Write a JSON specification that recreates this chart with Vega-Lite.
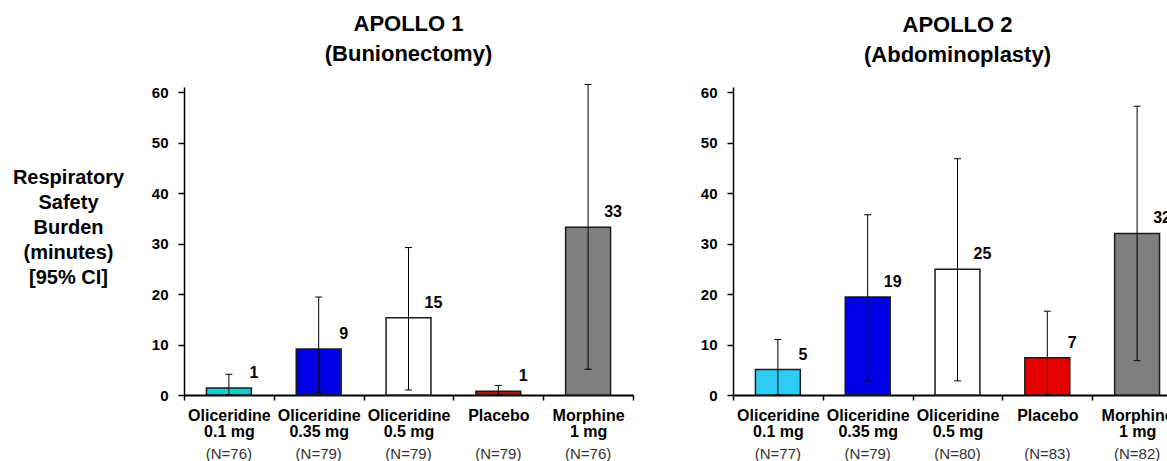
{
  "$schema": "https://vega.github.io/schema/vega-lite/v6.json",
  "padding": {"left": 12, "top": 12, "right": 0, "bottom": 0},
  "background": "white",
  "config": {
    "font": "Liberation Sans",
    "view": {"stroke": null},
    "axis": {"grid": false, "domainColor": "black", "tickColor": "black", "labelColor": "black", "labelFont": "Liberation Sans", "titleFont": "Liberation Sans"},
    "title": {"font": "Liberation Sans", "fontSize": 22, "fontWeight": "bold", "color": "black", "lineHeight": 30, "anchor": "middle", "offset": 18}
  },
  "datasets": {
    "apollo1": [
      {"treatment": "Oliceridine 0.1 mg", "mean": 1.4, "lo": 0, "hi": 4.1, "txt": "1", "n": "(N=76)"},
      {"treatment": "Oliceridine 0.35 mg", "mean": 9.1, "lo": 0.5, "hi": 19.4, "txt": "9", "n": "(N=79)"},
      {"treatment": "Oliceridine 0.5 mg", "mean": 15.3, "lo": 1.0, "hi": 29.2, "txt": "15", "n": "(N=79)"},
      {"treatment": "Placebo", "mean": 0.75, "lo": 0, "hi": 1.9, "txt": "1", "n": "(N=79)"},
      {"treatment": "Morphine 1 mg", "mean": 33.2, "lo": 5.1, "hi": 61.5, "txt": "33", "n": "(N=76)"}
    ],
    "apollo2": [
      {"treatment": "Oliceridine 0.1 mg", "mean": 5.05, "lo": 0, "hi": 11.0, "txt": "5", "n": "(N=77)"},
      {"treatment": "Oliceridine 0.35 mg", "mean": 19.4, "lo": 2.8, "hi": 35.7, "txt": "19", "n": "(N=79)"},
      {"treatment": "Oliceridine 0.5 mg", "mean": 24.9, "lo": 2.8, "hi": 46.8, "txt": "25", "n": "(N=80)"},
      {"treatment": "Placebo", "mean": 7.4, "lo": 0, "hi": 16.6, "txt": "7", "n": "(N=83)"},
      {"treatment": "Morphine 1 mg", "mean": 32.0, "lo": 6.8, "hi": 57.2, "txt": "32", "n": "(N=82)"}
    ]
  },
  "resolve": {"scale": {"color": "independent", "x": "independent", "y": "independent"}},
  "spacing": 66,
  "hconcat": [
    {
      "title": {"text": ["APOLLO 1", "(Bunionectomy)"]},
      "width": 449,
      "height": 308,
      "data": {"name": "apollo1"},
      "encoding": {
        "x": {"field": "treatment", "type": "nominal", "sort": null,
          "scale": {"paddingInner": 0, "paddingOuter": 0},
          "axis": {"title": null, "labelAngle": 0, "labelExpr": "indexof(datum.label, ' ') > 0 ? [substring(datum.label, 0, indexof(datum.label, ' ')), substring(datum.label, indexof(datum.label, ' ') + 1)] : datum.label", "labelFontSize": 16, "labelFontWeight": "bold", "labelLineHeight": 16, "labelPadding": 7, "tickSize": 5, "tickWidth": 1.5, "tickBand": "extent", "domainWidth": 2}}
      },
      "layer": [
        {
          "mark": {"type": "bar", "width": {"band": 0.5}, "stroke": "#1a1a1a", "strokeWidth": 1.5},
          "encoding": {
            "y": {"field": "mean", "type": "quantitative", "scale": {"domain": [0, 61], "nice": false},
              "axis": {"values": [0, 10, 20, 30, 40, 50, 60], "labelFontSize": 15, "labelFontWeight": "bold", "labelPadding": 10, "tickSize": 6, "tickWidth": 1.5, "domainWidth": 1.5,
                "title": ["Respiratory", "Safety", "Burden", "(minutes)", "[95% CI]"], "titleAngle": 0, "titleAlign": "center", "titleBaseline": "middle", "titleX": -116, "titleY": 90, "titleFontSize": 20, "titleFontWeight": "bold", "titleLineHeight": 25, "titleColor": "black"}},
            "color": {"field": "treatment", "type": "nominal", "legend": null,
              "scale": {"domain": ["Oliceridine 0.1 mg", "Oliceridine 0.35 mg", "Oliceridine 0.5 mg", "Placebo", "Morphine 1 mg"], "range": ["#1ec8cc", "#0000e6", "#ffffff", "#a01818", "#808080"]}}
          }
        },
        {
          "mark": {"type": "rule", "color": "black", "strokeWidth": 1},
          "encoding": {"y": {"field": "lo", "type": "quantitative"}, "y2": {"field": "hi"}}
        },
        {
          "mark": {"type": "tick", "orient": "horizontal", "size": 7, "thickness": 1, "color": "black", "opacity": 1},
          "encoding": {"y": {"field": "hi", "type": "quantitative"}}
        },
        {
          "mark": {"type": "tick", "orient": "horizontal", "size": 7, "thickness": 1, "color": "black", "opacity": 1},
          "encoding": {"y": {"field": "lo", "type": "quantitative"}}
        },
        {
          "mark": {"type": "text", "fontSize": 16, "fontWeight": "bold", "color": "black", "dx": 25, "dy": -10, "baseline": "alphabetic", "align": "center"},
          "encoding": {"y": {"field": "mean", "type": "quantitative"}, "text": {"field": "txt"}}
        },
        {
          "mark": {"type": "text", "fontSize": 15, "color": "#333333", "dy": 59, "baseline": "middle", "align": "center"},
          "encoding": {"y": {"datum": 0}, "text": {"field": "n"}}
        }
      ]
    },
    {
      "title": {"text": ["APOLLO 2", "(Abdominoplasty)"]},
      "width": 449,
      "height": 308,
      "data": {"name": "apollo2"},
      "encoding": {
        "x": {"field": "treatment", "type": "nominal", "sort": null,
          "scale": {"paddingInner": 0, "paddingOuter": 0},
          "axis": {"title": null, "labelAngle": 0, "labelExpr": "indexof(datum.label, ' ') > 0 ? [substring(datum.label, 0, indexof(datum.label, ' ')), substring(datum.label, indexof(datum.label, ' ') + 1)] : datum.label", "labelFontSize": 16, "labelFontWeight": "bold", "labelLineHeight": 16, "labelPadding": 7, "tickSize": 5, "tickWidth": 1.5, "tickBand": "extent", "domainWidth": 2}}
      },
      "layer": [
        {
          "mark": {"type": "bar", "width": {"band": 0.5}, "stroke": "#1a1a1a", "strokeWidth": 1.5},
          "encoding": {
            "y": {"field": "mean", "type": "quantitative", "scale": {"domain": [0, 61], "nice": false},
              "axis": {"values": [0, 10, 20, 30, 40, 50, 60], "labelFontSize": 15, "labelFontWeight": "bold", "labelPadding": 10, "tickSize": 6, "tickWidth": 1.5, "domainWidth": 1.5, "title": null}},
            "color": {"field": "treatment", "type": "nominal", "legend": null,
              "scale": {"domain": ["Oliceridine 0.1 mg", "Oliceridine 0.35 mg", "Oliceridine 0.5 mg", "Placebo", "Morphine 1 mg"], "range": ["#2dccf5", "#0000e6", "#ffffff", "#e60000", "#808080"]}}
          }
        },
        {
          "mark": {"type": "rule", "color": "black", "strokeWidth": 1},
          "encoding": {"y": {"field": "lo", "type": "quantitative"}, "y2": {"field": "hi"}}
        },
        {
          "mark": {"type": "tick", "orient": "horizontal", "size": 7, "thickness": 1, "color": "black", "opacity": 1},
          "encoding": {"y": {"field": "hi", "type": "quantitative"}}
        },
        {
          "mark": {"type": "tick", "orient": "horizontal", "size": 7, "thickness": 1, "color": "black", "opacity": 1},
          "encoding": {"y": {"field": "lo", "type": "quantitative"}}
        },
        {
          "mark": {"type": "text", "fontSize": 16, "fontWeight": "bold", "color": "black", "dx": 25, "dy": -10, "baseline": "alphabetic", "align": "center"},
          "encoding": {"y": {"field": "mean", "type": "quantitative"}, "text": {"field": "txt"}}
        },
        {
          "mark": {"type": "text", "fontSize": 15, "color": "#333333", "dy": 59, "baseline": "middle", "align": "center"},
          "encoding": {"y": {"datum": 0}, "text": {"field": "n"}}
        }
      ]
    }
  ]
}
